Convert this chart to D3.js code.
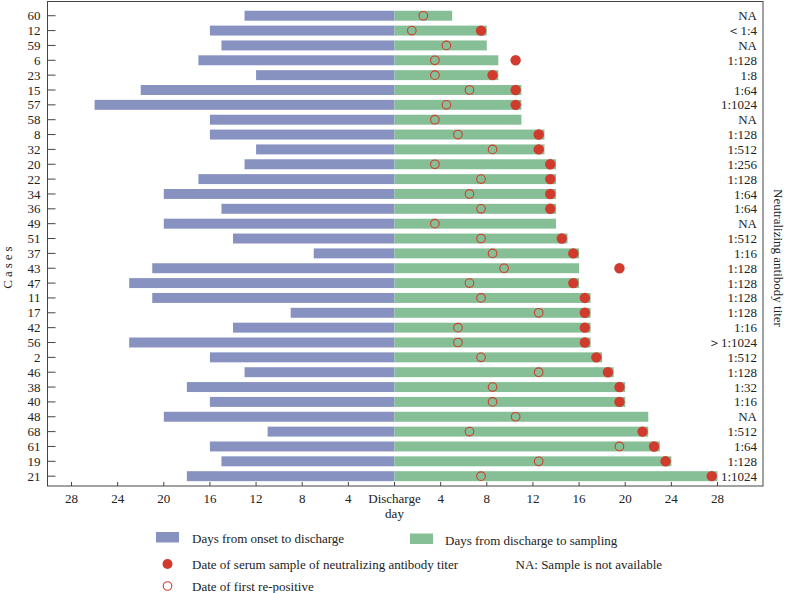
<!DOCTYPE html>
<html>
<head>
<meta charset="utf-8">
<script src="https://cdn.jsdelivr.net/npm/d3@7"></script>
<style>
  html, body { margin: 0; padding: 0; background: #fff; }
  svg, svg text { font-family: "Liberation Serif", "Tinos", "Times New Roman", "DejaVu Serif", serif; }
</style>
</head>
<body>
<svg id="chart" width="786" height="593"></svg>
<script>
// ---- data (top to bottom) ----
const cases = ["60","12","59","6","23","15","57","58","8","32","20","22","34","36","49","51","37","43","47","11","17","42","56","2","46","38","40","48","68","61","19","21"];
const onsetToDischarge = [13,16,15,17,12,22,26,16,16,12,13,17,20,15,20,14,7,21,23,21,9,14,23,16,13,18,16,20,11,16,15,18];
const dischargeToSampling = [5,8,8,9,9,11,11,11,13,13,14,14,14,14,14,15,16,16,16,17,17,17,17,18,19,20,20,22,22,23,24,28];
const serumSampleDay = [null,7.5,null,10.5,8.5,10.5,10.5,null,12.5,12.5,13.5,13.5,13.5,13.5,null,14.5,15.5,19.5,15.5,16.5,16.5,16.5,16.5,17.5,18.5,19.5,19.5,null,21.5,22.5,23.5,27.5];
const firstRepositiveDay = [2.5,1.5,4.5,3.5,3.5,6.5,4.5,3.5,5.5,8.5,3.5,7.5,6.5,7.5,3.5,7.5,8.5,9.5,6.5,7.5,12.5,5.5,5.5,7.5,12.5,8.5,8.5,10.5,6.5,19.5,12.5,7.5];
const titers = ["NA","＜1:4","NA","1:128","1:8","1:64","1:1024","NA","1:128","1:512","1:256","1:128","1:64","1:64","NA","1:512","1:16","1:128","1:128","1:128","1:128","1:16","＞1:1024","1:512","1:128","1:32","1:16","NA","1:512","1:64","1:128","1:1024"];
const xTicks = [-28,-24,-20,-16,-12,-8,-4,0,4,8,12,16,20,24,28];

const BLUE = "#8792c1", GREEN = "#86bf96", RED = "#d13b2d", INK = "#222";
const FONT = "'Liberation Serif', Tinos, 'Times New Roman', 'DejaVu Serif', serif";

const svg = d3.select("#chart").attr("font-family", FONT);
const frame = {left: 47.5, right: 763, top: 1.5, bottom: 486};

const x = d3.scaleLinear().domain([-28, 28]).range([71.5, 717.5]);
const y = d3.scaleBand().domain(cases).range([8.3, 483.6]).paddingInner(0.33).paddingOuter(0.165);

const rows = cases.map((c, i) => ({
  c, onset: onsetToDischarge[i], samp: dischargeToSampling[i],
  serum: serumSampleDay[i], repos: firstRepositiveDay[i], titer: titers[i]
}));

const cy = c => y(c) + y.bandwidth() / 2;

// bars
svg.append("g").selectAll("rect").data(rows).join("rect")
  .attr("x", d => x(-d.onset)).attr("y", d => y(d.c))
  .attr("width", d => x(0) - x(-d.onset)).attr("height", y.bandwidth())
  .attr("fill", BLUE);
svg.append("g").selectAll("rect").data(rows).join("rect")
  .attr("x", x(0)).attr("y", d => y(d.c))
  .attr("width", d => x(d.samp) - x(0)).attr("height", y.bandwidth())
  .attr("fill", GREEN);

// first re-positive (open)
svg.append("g").selectAll("circle").data(rows).join("circle")
  .attr("cx", d => x(d.repos)).attr("cy", d => cy(d.c)).attr("r", 4.3)
  .attr("fill", "none").attr("stroke", RED).attr("stroke-width", 1.1);
// serum sample (filled)
svg.append("g").selectAll("circle").data(rows.filter(d => d.serum != null)).join("circle")
  .attr("cx", d => x(d.serum)).attr("cy", d => cy(d.c)).attr("r", 5.2)
  .attr("fill", RED);

// titers
svg.append("g").selectAll("text").data(rows).join("text")
  .attr("font-family", FONT)
  .attr("x", 757).attr("y", d => cy(d.c)).attr("dy", "0.35em")
  .attr("text-anchor", "end").attr("font-size", 13).attr("fill", INK)
  .text(d => d.titer);

// frame
svg.append("rect").attr("x", frame.left).attr("y", frame.top)
  .attr("width", frame.right - frame.left).attr("height", frame.bottom - frame.top)
  .attr("fill", "none").attr("stroke", "#444").attr("stroke-width", 1);

// y axis (ticks inward)
const yAxis = svg.append("g").attr("transform", `translate(${frame.left},0)`);
yAxis.selectAll("line").data(cases).join("line")
  .attr("x1", 0).attr("x2", 8).attr("y1", d => cy(d)).attr("y2", d => cy(d))
  .attr("stroke", "#444");
yAxis.selectAll("text").data(cases).join("text")
  .attr("font-family", FONT)
  .attr("x", -7).attr("y", d => cy(d)).attr("dy", "0.35em")
  .attr("text-anchor", "end").attr("font-size", 13).attr("fill", INK)
  .text(d => d);

// x axis (ticks inward)
const xAxis = svg.append("g").attr("transform", `translate(0,${frame.bottom})`);
xAxis.selectAll("line").data(xTicks).join("line")
  .attr("x1", d => x(d)).attr("x2", d => x(d)).attr("y1", 0).attr("y2", -4)
  .attr("stroke", "#444");
xAxis.selectAll("text").data(xTicks).join("text")
  .attr("font-family", FONT)
  .attr("x", d => x(d)).attr("y", 12).attr("dy", "0.35em")
  .attr("text-anchor", "middle").attr("font-size", 13).attr("fill", INK)
  .text(d => d === 0 ? "Discharge" : Math.abs(d));
xAxis.append("text").attr("font-family", FONT)
  .attr("x", x(0)).attr("y", 27).attr("dy", "0.35em")
  .attr("text-anchor", "middle").attr("font-size", 13).attr("fill", INK)
  .text("day");

// axis titles
svg.append("text").attr("font-family", FONT)
  .attr("transform", "translate(7,266) rotate(-90)").attr("dy", "0.35em")
  .attr("text-anchor", "middle").attr("font-size", 13).attr("letter-spacing", 3).attr("fill", INK)
  .text("Cases");
svg.append("text").attr("font-family", FONT)
  .attr("transform", "translate(779,258) rotate(90)").attr("dy", "0.35em")
  .attr("text-anchor", "middle").attr("font-size", 13).attr("fill", INK)
  .text("Neutralizing antibody titer");

// legend
const lg = svg.append("g").attr("font-size", 13).attr("fill", INK).attr("font-family", FONT);
lg.append("rect").attr("x", 156).attr("y", 532).attr("width", 23).attr("height", 10.5).attr("fill", BLUE);
lg.append("text").attr("x", 192).attr("y", 538).attr("dy", "0.35em").text("Days from onset to discharge");
lg.append("rect").attr("x", 410).attr("y", 533.5).attr("width", 23).attr("height", 10.5).attr("fill", GREEN);
lg.append("text").attr("x", 445).attr("y", 540).attr("dy", "0.35em").text("Days from discharge to sampling");
lg.append("circle").attr("cx", 167.5).attr("cy", 564).attr("r", 5).attr("fill", RED);
lg.append("text").attr("x", 192).attr("y", 564).attr("dy", "0.35em").text("Date of serum sample of neutralizing antibody titer");
lg.append("text").attr("x", 515.5).attr("y", 564).attr("dy", "0.35em").text("NA: Sample is not available");
lg.append("circle").attr("cx", 167.5).attr("cy", 586).attr("r", 4.3).attr("fill", "none").attr("stroke", RED).attr("stroke-width", 1.1);
lg.append("text").attr("x", 192).attr("y", 586).attr("dy", "0.35em").text("Date of first re-positive");
</script>
</body>
</html>
